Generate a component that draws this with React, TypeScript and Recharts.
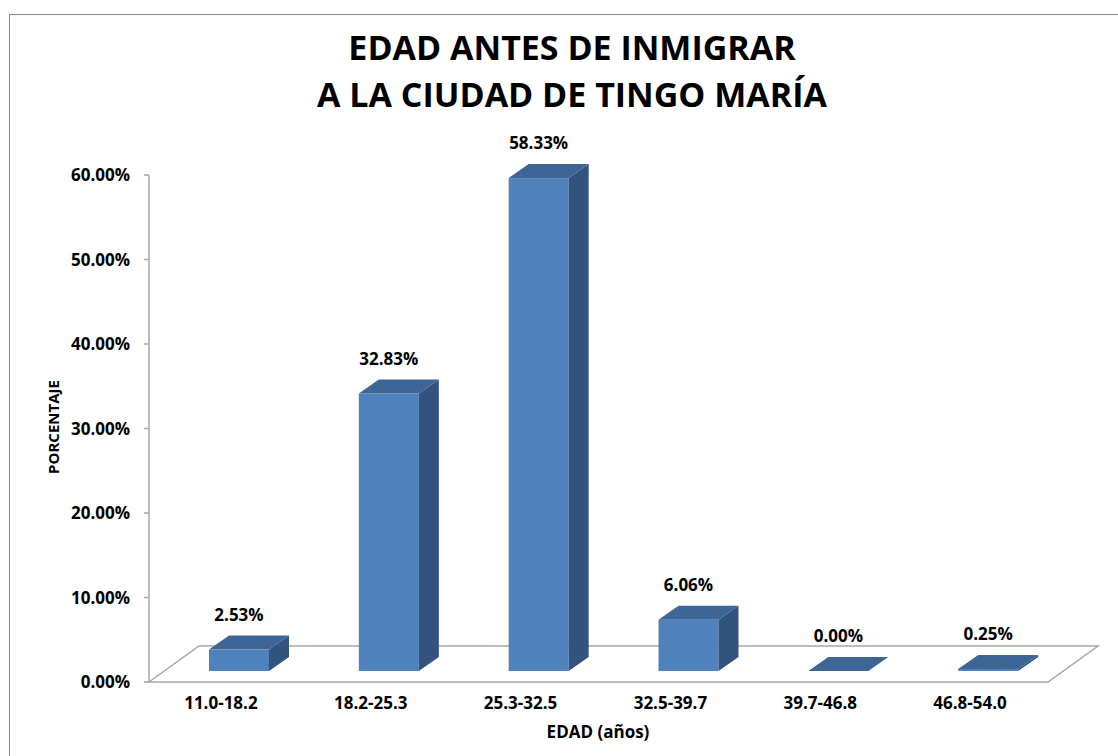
import { Bar, BarChart, Customized, LabelList, XAxis, YAxis, usePlotArea } from "recharts";

// Age ranges (years) and the share of migrants in each one
const CATEGORIES = ["11.0-18.2", "18.2-25.3", "25.3-32.5", "32.5-39.7", "39.7-46.8", "46.8-54.0"];
const SHARES = [0.0253, 0.3283, 0.5833, 0.0606, 0, 0.0025];
const Y_TICKS = [0, 0.1, 0.2, 0.3, 0.4, 0.5, 0.6];
const TITLE_LINES = ["EDAD ANTES DE INMIGRAR", "A LA CIUDAD DE TINGO MARÍA"];

const FONT = "'Open Sans', 'DejaVu Sans', sans-serif";
const FRONT = "#4f81bd";
const TOP = "#3d6595";
const SIDE = "#31537e";
const GRID = "#a6a6a6";

// fake-3D geometry: floor depth, where the boxes sit on it, box depth
const FLOOR_DX = 50;
const FLOOR_DY = 36;
const SHIFT_X = 15;
const SHIFT_Y = 11;
const BOX_DX = 20;
const BOX_DY = 14;

const pct = (v: number) => `${(v * 100).toFixed(2)}%`;

const data = CATEGORIES.map((c, i) => ({ range: c, share: SHARES[i] }));

function Box(props: any) {
  const { x, y, width, height } = props;
  const fx = x + SHIFT_X;
  const fy = y - SHIFT_Y;
  const h = Math.max(0, height);
  const top = `${fx},${fy} ${fx + width},${fy} ${fx + width + BOX_DX},${fy - BOX_DY} ${fx + BOX_DX},${fy - BOX_DY}`;
  const side = `${fx + width},${fy} ${fx + width + BOX_DX},${fy - BOX_DY} ${fx + width + BOX_DX},${fy + h - BOX_DY} ${fx + width},${fy + h}`;
  return (
    <g>
      {h > 0.5 && <rect x={fx} y={fy} width={width} height={h} fill={FRONT} />}
      {h > 0.5 && <polygon points={side} fill={SIDE} />}
      <polygon points={top} fill={TOP} />
      {h <= 0.5 && h > 0 && <line x1={fx} x2={fx + width} y1={fy + 0.5} y2={fy + 0.5} stroke="#6d9bd6" strokeWidth={1.5} />}
    </g>
  );
}

function BoxLabel(props: any) {
  const { x, y, width, value } = props;
  return (
    <text
      x={x + SHIFT_X + width / 2}
      y={y - SHIFT_Y - 29}
      textAnchor="middle"
      fontFamily={FONT}
      fontWeight={700}
      fontSize={17}
      fill="#000"
    >
      {pct(Number(value))}
    </text>
  );
}

function Floor() {
  const plot = usePlotArea();
  if (!plot) return null;
  const x0 = plot.x;
  const x1 = plot.x + plot.width;
  const y0 = plot.y + plot.height;
  const pts = `${x0},${y0} ${x0 + FLOOR_DX},${y0 - FLOOR_DY} ${x1 + FLOOR_DX},${y0 - FLOOR_DY} ${x1},${y0}`;
  return <polygon points={pts} fill="#fff" stroke={GRID} strokeWidth={1.5} />;
}

function CategoryTick(props: any) {
  const { x, y, payload } = props;
  return (
    <text x={x - 3} y={y + 27} textAnchor="middle" fontFamily={FONT} fontWeight={700} fontSize={17} fill="#000">
      {payload.value}
    </text>
  );
}

function Titles() {
  return (
    <g fontFamily={FONT} fontWeight={700} fill="#000">
      {TITLE_LINES.map((t, i) => (
        <text key={i} x={572} y={60 + i * 47} textAnchor="middle" fontSize={34}>
          {t}
        </text>
      ))}
      <text x={598} y={738} textAnchor="middle" fontSize={17}>
        EDAD (años)
      </text>
      <text x={0} y={0} transform="translate(59 427) rotate(-90)" textAnchor="middle" fontSize={15}>
        PORCENTAJE
      </text>
    </g>
  );
}

export default function App() {
  return (
    <div style={{ position: "absolute", left: 0, top: 0, width: 1118, height: 756, overflow: "hidden", background: "#fff" }}>
      <div
        style={{
          position: "absolute",
          left: 9,
          top: 14,
          width: 1200,
          height: 800,
          border: "1.5px solid #8a8a8a",
        }}
      />
      <div style={{ position: "absolute", left: 0, top: 0 }}>
        <BarChart width={1118} height={756} data={data} margin={{ top: 175, right: 70, bottom: 34, left: 49 }}>
          <Customized component={Floor} />
          <Customized component={Titles} />
          <XAxis
            dataKey="range"
            height={40}
            axisLine={false}
            tickLine={false}
            tickSize={0}
            tickMargin={0}
            interval={0}
            tick={<CategoryTick />}
          />
          <YAxis
            width={100}
            domain={[0, 0.6]}
            ticks={Y_TICKS}
            tickFormatter={pct}
            axisLine={{ stroke: GRID, strokeWidth: 1.5 }}
            tickLine={{ stroke: GRID, strokeWidth: 1.5 }}
            tickSize={5}
            tickMargin={14}
            tick={{ fill: "#000", fontFamily: FONT, fontWeight: 700, fontSize: 17 }}
          />
          <Bar dataKey="share" barSize={60} shape={<Box />} isAnimationActive={false}>
            <LabelList dataKey="share" content={<BoxLabel />} />
          </Bar>
        </BarChart>
      </div>
    </div>
  );
}
